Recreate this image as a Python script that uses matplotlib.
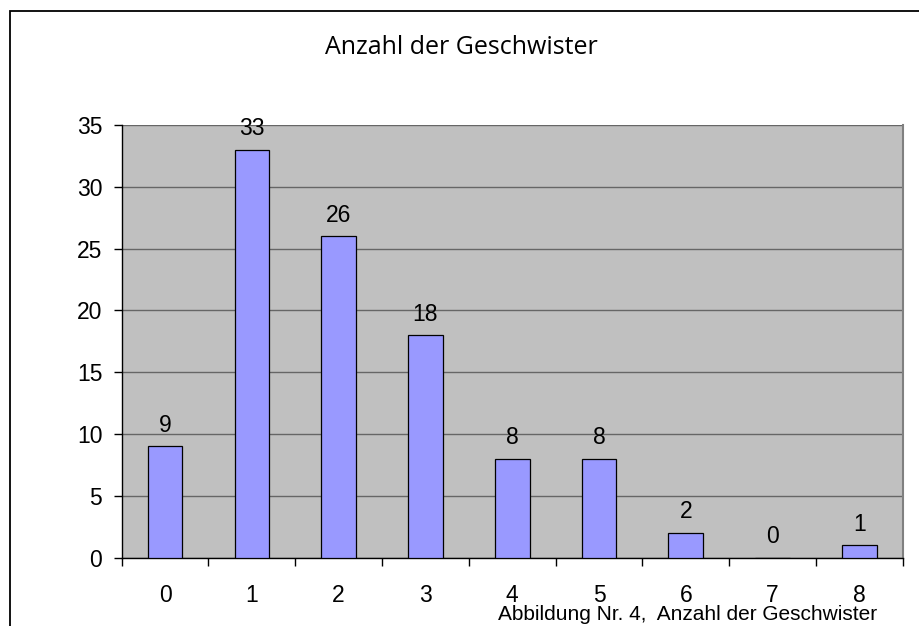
import numpy as np
import matplotlib
matplotlib.use('Agg')
import matplotlib.pyplot as plt
from matplotlib.patches import Rectangle

# -----------------------------------------------------------------------------

categories = ['0', '1', '2', '3', '4', '5', '6', '7', '8']
counts = [9, 33, 26, 18, 8, 8, 2, 0, 1]
title = 'Anzahl der Geschwister'
caption = 'Abbildung Nr. 4,  Anzahl der Geschwister'

# -----------------------------------------------------------------------------

plt.rcParams['font.family'] = ['Liberation Sans', 'DejaVu Sans']

fig = plt.figure(figsize=(9.19, 6.26), dpi=100)
fig.patch.set_facecolor('white')

# outer chart frame (cropped on the right and bottom)
fig.patches.append(Rectangle((10 / 919, -0.5), 2.0, 1.5 - 10.5 / 626,
                             transform=fig.transFigure, fill=False,
                             edgecolor='black', linewidth=1.3))

ax = fig.add_axes([121.7 / 919, 1 - 557.7 / 626,
                   (902.7 - 121.7) / 919, (557.7 - 125) / 626])
ax.set_facecolor('#C0C0C0')

x = np.arange(len(categories))
ax.bar(x, counts, width=0.4, color='#9999FF', edgecolor='black',
       linewidth=0.9, zorder=3)

for xi, v in zip(x, counts):
    ax.annotate(str(v), (xi, v), xytext=(0, 10.5), textcoords='offset points',
                ha='center', va='baseline', fontsize=16.5)

ax.set_xlim(-0.5, len(categories) - 0.5)
ax.set_ylim(0, 35)
ax.set_yticks(np.arange(0, 36, 5))
ax.yaxis.grid(True, color='#666666', linewidth=1.0, zorder=1)
ax.set_axisbelow(True)

# Excel style: ticks between categories, labels at the centres
ax.set_xticks(np.arange(-0.5, len(categories), 1.0))
ax.set_xticklabels([])
ax.set_xticks(x, minor=True)
ax.set_xticklabels(categories, minor=True)
ax.tick_params(axis='x', which='major', length=6, width=1, direction='out')
ax.tick_params(axis='x', which='minor', length=0, pad=19, labelsize=16.5)
ax.tick_params(axis='y', length=6, width=1, pad=8, labelsize=16.5)

ax.spines['top'].set_visible(False)
ax.spines['right'].set_color('#808080')
ax.spines['right'].set_linewidth(1.5)
ax.spines['left'].set_linewidth(1.0)
ax.spines['bottom'].set_linewidth(1.0)

fig.text(461 / 919, 1 - 47 / 626, title, ha='center', va='center',
         fontsize=18, family=['Open Sans', 'DejaVu Sans'])
fig.text(498 / 919, 1 - 620 / 626, caption, ha='left', va='baseline',
         fontsize=15)

fig.savefig('out.png', dpi=100)
